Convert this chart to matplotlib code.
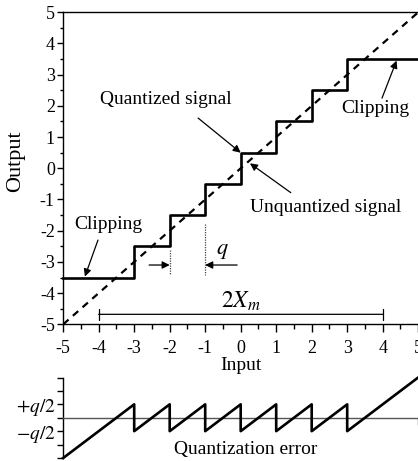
import numpy as np
import matplotlib.pyplot as plt

plt.rcParams['font.family'] = ['Liberation Serif', 'DejaVu Serif']
plt.rcParams['mathtext.fontset'] = 'stix'
plt.rcParams['axes.unicode_minus'] = False

# quantizer: step edges on the input axis and the output level of each step
step_edges = [-5, -3, -2, -1, 0, 1, 2, 3, 5]
levels = [-3.5, -2.5, -1.5, -0.5, 0.5, 1.5, 2.5, 3.5]
ideal = [-5, 5]

ticks = [-5, -4, -3, -2, -1, 0, 1, 2, 3, 4, 5]
err_ticks = [-1.5, -1, -0.5, 0, 0.5, 1, 1.5]
err_labels = ['', '', r'$-q/2$', '', r'$+q/2$', '', '']

W, H = 418, 461
fig = plt.figure(figsize=(W / 100, H / 100), dpi=100)

def px_box(x0, y0, x1, y1):
    return [x0 / W, 1 - y1 / H, (x1 - x0) / W, (y1 - y0) / H]

ax = fig.add_axes(px_box(63.2, 12.3, 418.2, 324.3))
ax.set_xlim(-5, 5)
ax.set_ylim(-5, 5)

stair_y = levels + [levels[-1]]
ax.plot(step_edges, stair_y, drawstyle='steps-post', color='black', lw=1.9,
        clip_on=False, zorder=3)
ax.plot(ideal, ideal, color='black', lw=1.6, dashes=(3.2, 2.6), zorder=2)

# q spacing marker
ax.plot([-2, -2], [-2.62, -3.42], color='#444444', lw=0.9, ls=(0, (1, 1)))
ax.plot([-1, -1], [-1.8, -3.42], color='#444444', lw=0.9, ls=(0, (1, 1)))
arr = dict(arrowstyle='-|>', color='black', lw=0.9, mutation_scale=11,
           shrinkA=0, shrinkB=0)
ax.annotate('', xy=(-2, -3.1), xytext=(-2.58, -3.1), arrowprops=arr)
ax.annotate('', xy=(-1, -3.1), xytext=(-0.1, -3.1), arrowprops=arr)
ax.text(-0.52, -2.68, r'$q$', fontsize=16, ha='center', va='center')

# 2Xm range bar
ax.annotate('', xy=(-4, -4.68), xytext=(4, -4.68),
            arrowprops=dict(arrowstyle='|-|', color='black', lw=0.9,
                            mutation_scale=4, shrinkA=0, shrinkB=0))
ax.text(0, -4.25, r'$2X_m$', fontsize=17, ha='center', va='center')

# labelled arrows
ax.text(-2.1, 2.19, 'Quantized signal', fontsize=14, ha='center', va='center')
ax.annotate('', xy=(0, 0.5), xytext=(-1.2, 1.61), arrowprops=arr)
ax.text(2.4, -1.27, 'Unquantized signal', fontsize=14, ha='center', va='center')
ax.annotate('', xy=(0.26, 0.16), xytext=(1.41, -0.78), arrowprops=arr)
ax.text(3.78, 1.93, 'Clipping', fontsize=14, ha='center', va='center')
ax.annotate('', xy=(4.39, 3.45), xytext=(3.98, 2.25), arrowprops=arr)
ax.text(-3.74, -1.79, 'Clipping', fontsize=14, ha='center', va='center')
ax.annotate('', xy=(-4.39, -3.47), xytext=(-4.02, -2.3), arrowprops=arr)

ax.spines['right'].set_visible(False)
for s in ['left', 'bottom', 'top']:
    ax.spines[s].set_linewidth(1.0)
ax.set_xticks(ticks)
ax.set_yticks(ticks)
ax.set_xticks(np.arange(-4.5, 5, 1), minor=True)
ax.set_yticks(np.arange(-4.5, 5, 1), minor=True)
ax.tick_params(axis='x', which='major', direction='out', length=5.5, width=1.0,
               labelsize=13, pad=6)
ax.tick_params(axis='x', which='minor', direction='out', length=3.5, width=1.0)
ax.tick_params(axis='y', which='major', direction='out', length=4, width=1.0,
               labelsize=13, pad=2)
ax.tick_params(axis='y', which='minor', direction='out', length=2.5, width=1.0)
ax.set_xlabel('Input', fontsize=14)
ax.xaxis.set_label_coords(0.5, -0.104)
ax.set_ylabel('Output', fontsize=16)
ax.yaxis.set_label_coords(-0.108, 0.523)

# quantization error = input - output
ex, ey = [], []
for a, b, lev in zip(step_edges[:-1], step_edges[1:], levels):
    ex += [a, b]
    ey += [a - lev, b - lev]

ax2 = fig.add_axes(px_box(63.2, 377.5, 418.2, 458.0))
ax2.set_xlim(-5, 5)
ax2.set_ylim(-1.5, 1.5)
ax2.plot(ex, ey, color='black', lw=1.9, clip_on=False, zorder=3)
ax2.spines['top'].set_visible(False)
ax2.spines['right'].set_visible(False)
ax2.spines['bottom'].set_position(('data', 0))
ax2.spines['bottom'].set_color('#555555')
ax2.spines['bottom'].set_linewidth(1.0)
ax2.spines['left'].set_linewidth(1.0)
ax2.set_xticks([5])
ax2.set_xticklabels([''])
ax2.set_yticks(err_ticks)
ax2.set_yticklabels(err_labels)
ax2.tick_params(axis='x', direction='out', length=5, width=1.0, color='#555555')
ax2.tick_params(axis='y', direction='out', length=4, width=1.0, labelsize=14, pad=1)
ax2.text(0.15, -1.2, 'Quantization error', fontsize=14, ha='center', va='center')

fig.savefig('out.png', dpi=100)
